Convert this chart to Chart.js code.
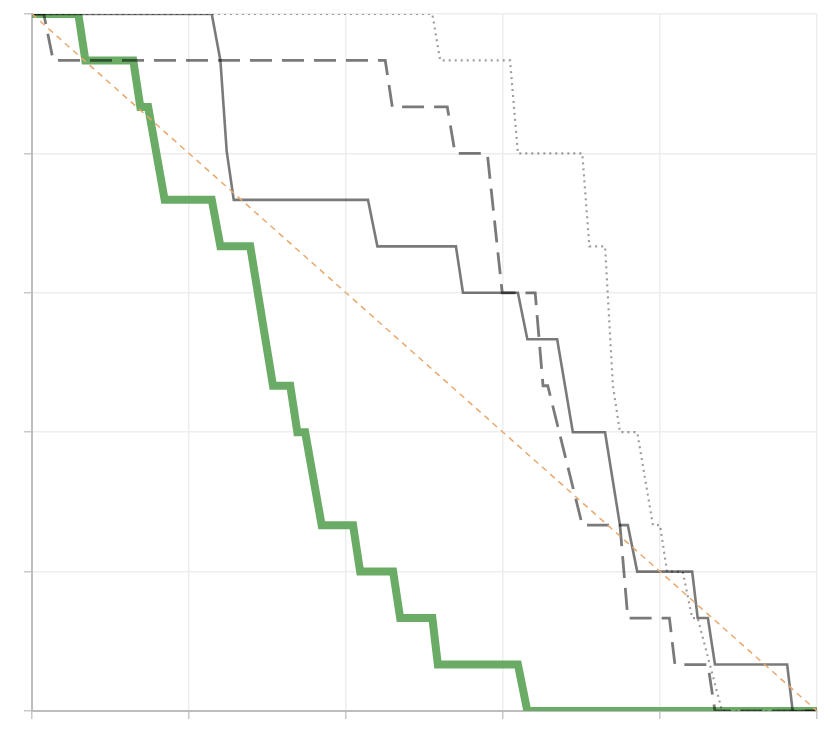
<!DOCTYPE html>
<html>
<head>
<meta charset="utf-8">
<script src="https://cdn.jsdelivr.net/npm/chart.js@4"></script>
<style>
html,body{margin:0;padding:0;background:#fff}
#wrap{width:836px;height:753px;position:relative}
</style>
</head>
<body>
<div id="wrap"><canvas id="burn"></canvas></div>
<script>
// x = time (0-100), y = remaining (0-15)

// ideal burndown
let idealX=[0,100]
let idealY=[15,0]

// green team (thick)
let greenX=[0,5.9,6.8,12.9,13.8,14.8,16.9,22.9,24,27.8,30.7,32.9,33.8,34.8,36.9,40.9,41.8,46,46.9,51,51.7,61.9,63.1,100]
let greenY=[15,15,14,14,13,13,11,11,10,10,7,7,6,6,4,4,3,3,2,2,1,1,0,0]

// solid grey
let solidX=[0,22.9,24,24.8,25.7,42.8,44,54,54.9,61.9,63.1,66.9,68.9,73,74.9,75.9,77.1,84.1,84.8,86.1,87,96.2,96.9,100]
let solidY=[15,15,14,12.05,11,11,10,10,9,9,8,8,6,6,4,4,3,3,2,2,1,1,0,0]

// dashed grey
let dashX=[0,1.5,2.7,45,45.9,52.9,53.9,58,59.9,64.1,65.1,65.7,70.1,74.9,75.9,81.2,81.9,86.1,87,100]
let dashY=[15,15,14,14,13,13,12,12,9,9,7,7,4,4,2,2,1,1,0,0]

// dotted grey
let dotX=[0,51,52,60.9,61.9,70.1,71,73,74,74.9,77.1,79.1,80,80.9,82.9,84.1,84.8,87.9,100]
let dotY=[15,15,14,14,12,12,10,10,7,6,6,4,4,3,3,2,2,0,0]

function pts(xs,ys){
return xs.map(function(x,i){return {x:x,y:ys[i]}})
}

new Chart(document.getElementById("burn"),{

type:"line",

data:{
datasets:[
{
data:pts(idealX,idealY),
borderColor:"rgb(232,168,110)",
borderWidth:1.5,
borderDash:[6,5]
},
{
data:pts(dotX,dotY),
borderColor:"rgba(0,0,0,0.38)",
borderWidth:2.2,
borderDash:[2,4]
},
{
data:pts(dashX,dashY),
borderColor:"rgba(0,0,0,0.52)",
borderWidth:2.8,
borderDash:[22,10]
},
{
data:pts(solidX,solidY),
borderColor:"rgba(0,0,0,0.52)",
borderWidth:2.6
},
{
data:pts(greenX,greenY),
borderColor:"rgb(106,172,101)",
borderWidth:8,
borderJoinStyle:"miter"
}
]
},

options:{
responsive:true,
maintainAspectRatio:false,
animation:false,
layout:{padding:{left:24,right:19,top:14,bottom:34}},
elements:{
point:{radius:0,hoverRadius:0},
line:{tension:0,fill:false}
},
plugins:{
legend:{display:false},
tooltip:{enabled:false}
},
scales:{
x:{
type:"linear",
min:0,
max:100,
ticks:{display:false,stepSize:20},
grid:{color:"#ededed",lineWidth:1.5,tickColor:"#c8c8c8",tickLength:8},
border:{color:"#bdbdbd",width:2}
},
y:{
type:"linear",
min:0,
max:15,
ticks:{display:false,stepSize:3},
grid:{color:"#ededed",lineWidth:1.5,tickColor:"#c8c8c8",tickLength:8},
border:{color:"#bdbdbd",width:2}
}
}
}

})
</script>
</body>
</html>
